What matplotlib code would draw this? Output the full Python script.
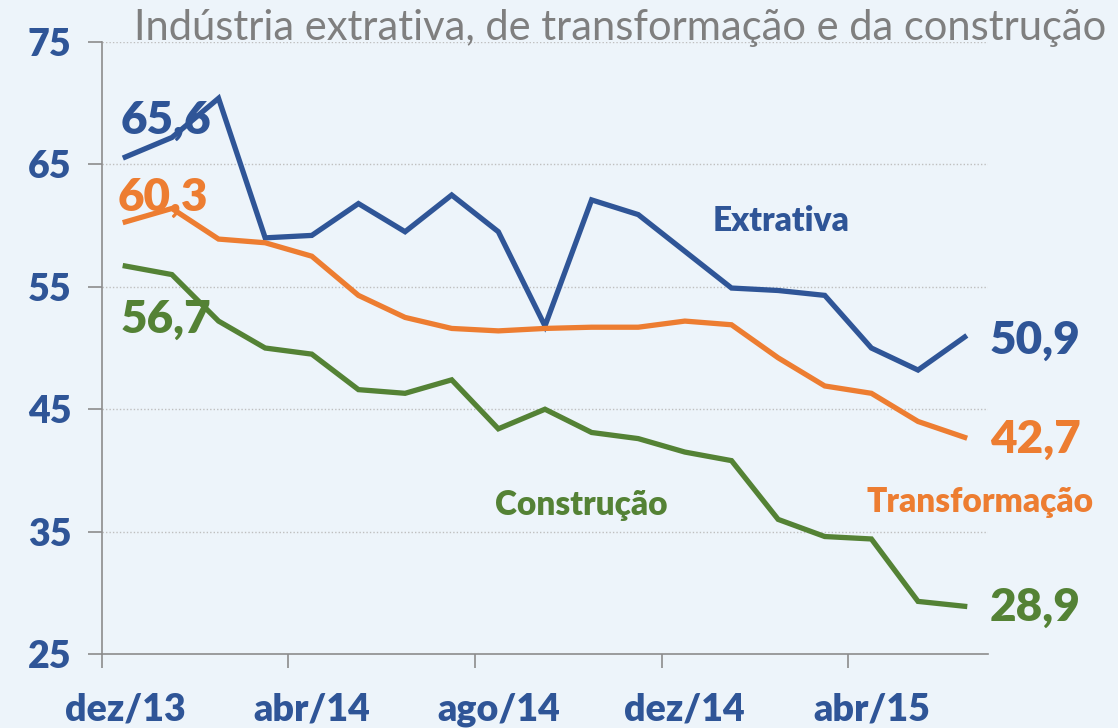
import matplotlib.pyplot as plt

# months dez/13 .. jun/15
months = ['dez/13', 'jan/14', 'fev/14', 'mar/14', 'abr/14', 'mai/14', 'jun/14',
          'jul/14', 'ago/14', 'set/14', 'out/14', 'nov/14', 'dez/14', 'jan/15',
          'fev/15', 'mar/15', 'abr/15', 'mai/15', 'jun/15']

extrativa = [65.6, 67.2, 70.4, 59.0, 59.2, 61.8, 59.5, 62.5, 59.5, 51.8,
             62.1, 60.9, 57.9, 54.9, 54.7, 54.3, 50.0, 48.2, 50.9]
transformacao = [60.3, 61.4, 58.9, 58.6, 57.5, 54.3, 52.5, 51.6, 51.4, 51.6,
                 51.7, 51.7, 52.2, 51.9, 49.2, 46.9, 46.3, 44.0, 42.7]
construcao = [56.7, 56.0, 52.2, 50.0, 49.5, 46.6, 46.3, 47.4, 43.4, 45.0,
              43.1, 42.6, 41.5, 40.8, 36.0, 34.6, 34.4, 29.3, 28.9]

y_ticks = [25, 35, 45, 55, 65, 75]

blue = '#2F5597'
orange = '#ED7D31'
green = '#548235'
bg = '#EDF4FA'

plt.rcParams['font.family'] = ['Lato', 'DejaVu Sans']

fig = plt.figure(figsize=(11.18, 7.28), dpi=100, facecolor=bg)
ax = fig.add_axes([0.0912, 0.1016, 0.7925, 0.8407])
ax.set_facecolor(bg)

x = list(range(len(months)))
ax.plot(x, extrativa, color=blue, lw=3.8, solid_joinstyle='miter', zorder=3)
ax.plot(x, transformacao, color=orange, lw=3.8, solid_joinstyle='miter', zorder=3)
ax.plot(x, construcao, color=green, lw=3.8, solid_joinstyle='miter', zorder=3)

ax.set_xlim(-0.5, len(months) - 0.5)
ax.set_ylim(25, 75)

# y axis
ax.set_yticks(y_ticks)
ax.set_yticklabels([str(v) for v in y_ticks], fontsize=27, fontweight='heavy', color=blue)
ax.tick_params(axis='y', length=10, width=1.2, color='#8C8C8C', pad=12)
for v in y_ticks[1:]:
    ax.axhline(v, color='#BFBFBF', lw=1, ls=(0, (1, 1.5)), zorder=1)

# x axis: ticks between categories, labels every 4 months
ax.set_xticks([i - 0.5 for i in range(0, len(months), 4)])
ax.set_xticklabels([])
ax.set_xticks(range(0, len(months), 4), minor=True)
ax.set_xticklabels(months[::4], minor=True, fontsize=27, fontweight='heavy', color=blue)
ax.tick_params(axis='x', which='major', length=10, width=1.2, color='#8C8C8C')
ax.tick_params(axis='x', which='minor', length=0, pad=28)

for s in ['top', 'right']:
    ax.spines[s].set_visible(False)
for s in ['left', 'bottom']:
    ax.spines[s].set_color('#8C8C8C')
    ax.spines[s].set_linewidth(1.2)

# value labels
def fmt(v):
    return f"{v:.1f}".replace('.', ',')

lab = dict(fontsize=33, fontweight='heavy', ha='left', va='center', clip_on=False, zorder=4)
ax.text(-0.11, 68.6, fmt(extrativa[0]), color=blue, **lab)
ax.text(-0.16, 62.3, fmt(transformacao[0]), color=orange, **lab)
ax.text(-0.11, 52.3, fmt(construcao[0]), color=green, **lab)
ax.text(18.54, 50.65, fmt(extrativa[-1]), color=blue, **lab)
ax.text(18.54, 42.5, fmt(transformacao[-1]), color=orange, **lab)
ax.text(18.54, 28.8, fmt(construcao[-1]), color=green, **lab)

# series names
ser = dict(fontsize=24, fontweight='heavy', ha='center', va='center', clip_on=False)
ax.text(14.06, 60.4, 'Extrativa', color=blue, **ser)
ax.text(9.79, 37.2, 'Construção', color=green, **ser)
ax.text(18.33, 37.4, 'Transformação', color=orange, **ser)

fig.text(0.555, 0.962, 'Indústria extrativa, de transformação e da construção',
         fontsize=30, color='#7F7F7F', ha='center', va='center', fontweight='normal')

fig.savefig('out.png', dpi=100, facecolor=bg)
